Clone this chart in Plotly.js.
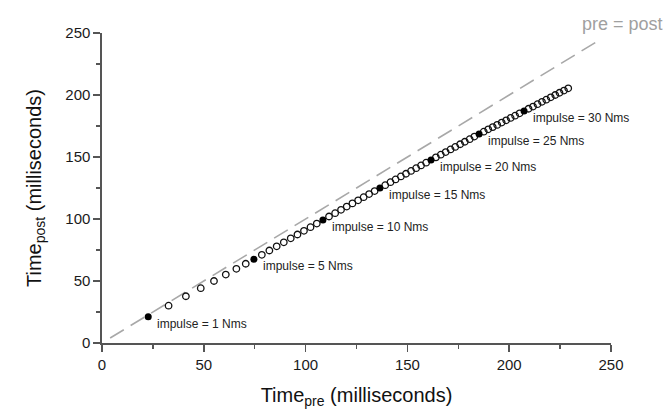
<!DOCTYPE html>
<html>
<head>
<meta charset="utf-8">
<script src="https://cdn.plot.ly/plotly-3.0.1.min.js"></script>
<style>html,body{margin:0;padding:0;background:#fff;}#chart{width:669px;height:413px;}</style>
</head>
<body>
<div id="chart"></div>
<script>
// impulse (Nms) for each plotted point
const impulse = [1,1.5,2,2.5,3,3.5,4,4.5,5,5.5,6,6.5,7,7.5,8,8.5,9,9.5,10,10.5,11,11.5,12,12.5,13,13.5,14,14.5,15,15.5,16,16.5,17,17.5,18,18.5,19,19.5,20,20.5,21,21.5,22,22.5,23,23.5,24,24.5,25,25.5,26,26.5,27,27.5,28,28.5,29,29.5,30,30.5,31,31.5,32,32.5,33,33.5,34,34.5,35];
// Time_pre (ms)
const timePre = [22.7,32.7,41.2,48.5,55.0,60.8,66.0,70.6,74.6,78.5,82.2,85.8,89.3,92.7,96.0,99.2,102.4,105.5,108.5,111.5,114.5,117.4,120.2,123.0,125.8,128.5,131.2,133.9,136.5,139.1,141.7,144.2,146.8,149.3,151.8,154.3,156.7,159.2,161.6,164.0,166.4,168.8,171.2,173.5,175.9,178.2,180.6,182.9,185.2,187.5,189.7,191.9,194.1,196.3,198.5,200.7,202.9,205.1,207.3,209.5,211.7,213.9,216.1,218.2,220.4,222.6,224.7,226.9,229.0];
// Time_post (ms)
const timePost = [21.2,30.1,37.7,44.2,50.0,55.2,59.8,63.9,67.5,71.1,74.6,78.0,81.2,84.4,87.5,90.5,93.4,96.3,99.2,102.0,104.7,107.4,110.0,112.6,115.1,117.6,120.1,122.5,125.0,127.3,129.7,131.9,134.3,136.5,138.8,141.0,143.2,145.4,147.6,149.7,151.9,154.0,156.1,158.1,160.3,162.3,164.4,166.5,168.5,170.4,172.3,174.1,175.9,177.8,179.6,181.5,183.3,185.2,187.0,188.9,190.7,192.6,194.5,196.2,198.1,200.0,201.8,203.6,205.4];
// impulses that are marked with a filled dot and labelled
const labelledImpulses = [1,5,10,15,20,25,30];
// identity line pre = post
const identityLine = [4,245];
const identityLabel = 'pre = post';
const xTicks = [0,50,100,150,200,250];
const yTicks = [0,50,100,150,200,250];

const openX = [], openY = [], fillX = [], fillY = [], fillImp = [];
impulse.forEach((imp, i) => {
  if (labelledImpulses.includes(imp)) { fillX.push(timePre[i]); fillY.push(timePost[i]); fillImp.push(imp); }
  else { openX.push(timePre[i]); openY.push(timePost[i]); }
});

const FONT = 'Liberation Sans, Arial, Helvetica, sans-serif';

const traces = [
  {x: identityLine, y: identityLine, mode: 'lines', type: 'scatter',
   line: {color: '#a8a8a8', width: 1.6, dash: '16px,8px'}, hoverinfo: 'skip', cliponaxis: false},
  {x: openX, y: openY, mode: 'markers', type: 'scatter',
   marker: {symbol: 'circle-open', size: 6.5, color: '#111', line: {width: 1.3, color: '#111'}}, cliponaxis: false},
  {x: fillX, y: fillY, mode: 'markers', type: 'scatter',
   marker: {symbol: 'circle', size: 7, color: '#000'}, cliponaxis: false}
];

const annotations = fillImp.map((imp, k) => ({
  x: fillX[k], y: fillY[k], xref: 'x', yref: 'y', text: 'impulse = ' + imp + ' Nms',
  showarrow: false, xanchor: 'left', yanchor: 'middle', xshift: 7, yshift: -7,
  font: {family: FONT, size: 12, color: '#222'}
}));
annotations.push({x: 1.023, y: 1.03, xref: 'paper', yref: 'paper', text: identityLabel, showarrow: false,
  xanchor: 'center', yanchor: 'middle', font: {family: FONT, size: 18, color: '#a0a0a0'}});

const axisCommon = {
  showgrid: false, zeroline: false, showline: true, linecolor: '#555', linewidth: 1.6,
  ticks: 'outside', ticklen: 7, tickwidth: 1.6, tickcolor: '#555',
  minor: {ticks: 'outside', ticklen: 4, tickwidth: 1.4, tickcolor: '#555', dtick: 25},
  tickfont: {family: FONT, size: 15, color: '#1a1a1a'}, fixedrange: true
};

const layout = {
  width: 669, height: 413,
  margin: {l: 102, r: 58, t: 33, b: 70},
  paper_bgcolor: '#fff', plot_bgcolor: '#fff',
  showlegend: false,
  xaxis: Object.assign({}, axisCommon, {range: [0, 250], tickvals: xTicks,
    title: {text: 'Time<sub>pre</sub> (milliseconds)', font: {family: FONT, size: 20, color: '#111'}, standoff: 16}}),
  yaxis: Object.assign({}, axisCommon, {range: [0, 250], tickvals: yTicks,
    title: {text: 'Time<sub>post</sub> (milliseconds)', font: {family: FONT, size: 20, color: '#111'}, standoff: 18}}),
  annotations: annotations
};

Plotly.newPlot('chart', traces, layout, {displayModeBar: false, staticPlot: true});
</script>
</body>
</html>
